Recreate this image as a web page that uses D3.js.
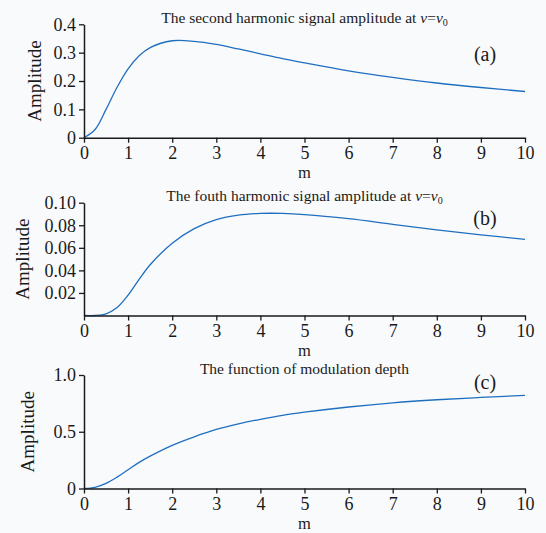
<!DOCTYPE html>
<html>
<head>
<meta charset="utf-8">
<script src="https://cdn.jsdelivr.net/npm/d3@7"></script>
<style>
  body { margin: 0; background: #f9fafb; }
  svg { display: block; font-family: "Liberation Serif", "Times New Roman", serif; }
</style>
</head>
<body>
<div id="chart"></div>
<script>
// modulation index m
var mGrid = [0, 0.25, 0.5, 0.75, 1, 1.25, 1.5, 2, 2.5, 3, 3.5, 4, 4.5, 5, 6, 7, 8, 9, 10];

// (a) second harmonic amplitude
var secondHarmonic = [0, 0.029, 0.100, 0.178, 0.243, 0.289, 0.318, 0.342, 0.340, 0.329, 0.313, 0.296, 0.279, 0.264, 0.236, 0.213, 0.193, 0.177, 0.163];
// (b) fourth harmonic amplitude
var fourthHarmonic = [0, 0, 0.0015, 0.007, 0.018, 0.032, 0.045, 0.064, 0.077, 0.085, 0.089, 0.0905, 0.0905, 0.0895, 0.0858, 0.0808, 0.076, 0.0715, 0.0675];
// (c) modulation depth function
var modDepth = [0, 0.01, 0.045, 0.10, 0.165, 0.23, 0.285, 0.38, 0.455, 0.52, 0.57, 0.61, 0.645, 0.672, 0.718, 0.755, 0.782, 0.802, 0.82];

var xTicks = [0, 1, 2, 3, 4, 5, 6, 7, 8, 9, 10];
var yTicksA = [0, 0.1, 0.2, 0.3, 0.4], yLabelsA = ["0", "0.1", "0.2", "0.3", "0.4"];
var yTicksB = [0.02, 0.04, 0.06, 0.08, 0.10], yLabelsB = ["0.02", "0.04", "0.06", "0.08", "0.10"];
var yTicksC = [0, 0.5, 1], yLabelsC = ["0", "0.5", "1.0"];

var titles = ["The second harmonic signal amplitude at ", "The fouth harmonic signal amplitude at ", "The function of modulation depth"];
var tags = ["(a)", "(b)", "(c)"];

var width = 546, height = 533;
var left = 84, right = 525;

var panels = [
  { vals: secondHarmonic, ymax: 0.4, ticks: yTicksA, labels: yLabelsA, top: 24.3, bottom: 137.7, ylx: 35, title: titles[0], nu: true, tag: tags[0], tagY: 61 },
  { vals: fourthHarmonic, ymax: 0.1, ticks: yTicksB, labels: yLabelsB, top: 202.7, bottom: 315.5, ylx: 23, title: titles[1], nu: true, tag: tags[1], tagY: 225 },
  { vals: modDepth, ymax: 1, ticks: yTicksC, labels: yLabelsC, top: 375, bottom: 488.5, ylx: 28, title: titles[2], nu: false, tag: tags[2], tagY: 389 }
];

var svg = d3.select("#chart").append("svg")
  .attr("width", width)
  .attr("height", height);

svg.append("rect").attr("width", width).attr("height", height).attr("fill", "#f9fafb");

var x = d3.scaleLinear().domain([0, 10]).range([left, right]);

panels.forEach(function(p) {
  var y = d3.scaleLinear().domain([0, p.ymax]).range([p.bottom, p.top]);
  var g = svg.append("g");

  var line = d3.line()
    .x(function(d, i) { return x(mGrid[i]); })
    .y(function(d) { return y(d); })
    .curve(d3.curveCatmullRom.alpha(0.5));

  g.append("path")
    .datum(p.vals)
    .attr("fill", "none")
    .attr("stroke", "#1f6fc1")
    .attr("stroke-width", 1.3)
    .attr("d", line);

  // x axis
  var xa = g.append("g")
    .attr("transform", "translate(0," + p.bottom + ")")
    .call(d3.axisBottom(x).tickValues(xTicks).tickSize(5).tickPadding(4).tickSizeOuter(0).tickFormat(d3.format("d")));

  // y axis
  var ya = g.append("g")
    .attr("transform", "translate(" + left + ",0)")
    .call(d3.axisLeft(y).tickValues(p.ticks).tickSize(5).tickPadding(3).tickSizeOuter(0)
      .tickFormat(function(d, i) { return p.labels[i]; }));

  [xa, ya].forEach(function(a) {
    a.select(".domain").attr("stroke", "#1a1a1a").attr("stroke-width", 1.5);
    a.selectAll(".tick line").attr("stroke", "#1a1a1a").attr("stroke-width", 1.3);
    a.selectAll(".tick text").attr("fill", "#1a1a1a").style("font-size", "18px")
      .style("font-family", "'Liberation Serif', serif");
  });

  g.append("text")
    .attr("x", (left + right) / 2)
    .attr("y", p.bottom + 40.5)
    .attr("text-anchor", "middle")
    .attr("fill", "#1a1a1a")
    .style("font-size", "16.5px")
    .text("m");

  g.append("text")
    .attr("transform", "translate(" + p.ylx + "," + (p.top + p.bottom) / 2 + ") rotate(-90)")
    .attr("text-anchor", "middle")
    .attr("dy", "0.32em")
    .attr("fill", "#1a1a1a")
    .style("font-size", "19px")
    .text("Amplitude");

  var t = g.append("text")
    .attr("x", (left + right) / 2)
    .attr("y", p.top - 1.5)
    .attr("text-anchor", "middle")
    .attr("fill", "#1a1a1a")
    .style("font-size", "15.5px");
  t.append("tspan").text(p.title);
  if (p.nu) {
    t.append("tspan").style("font-style", "italic").text("v");
    t.append("tspan").text("=");
    t.append("tspan").style("font-style", "italic").text("v");
    t.append("tspan").attr("dy", 3).style("font-size", "10px").text("0");
  }

  g.append("text")
    .attr("x", 485)
    .attr("y", p.tagY)
    .attr("text-anchor", "middle")
    .attr("fill", "#1a1a1a")
    .style("font-size", "20px")
    .text(p.tag);
});
</script>
</body>
</html>
